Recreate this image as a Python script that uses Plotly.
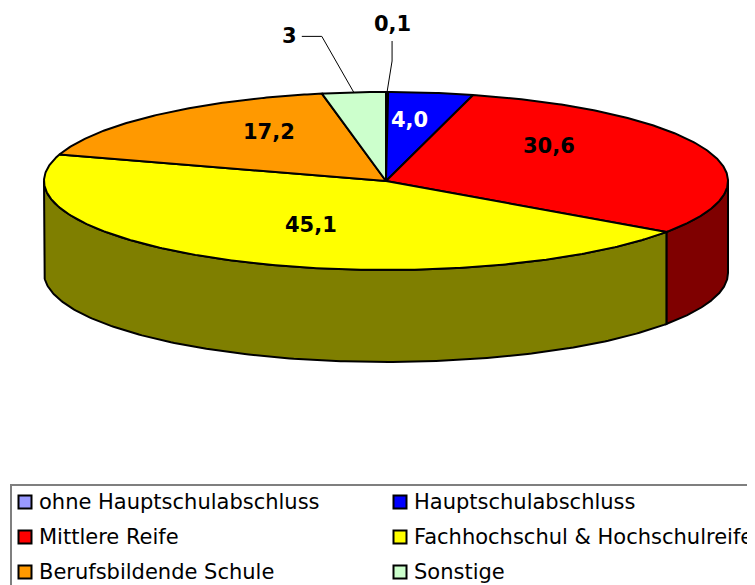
import numpy as np
import plotly.graph_objects as go

# ---- data ----
categories = ["ohne Hauptschulabschluss", "Hauptschulabschluss", "Mittlere Reife",
              "Fachhochschul & Hochschulreife", "Berufsbildende Schule", "Sonstige"]
values = [0.1, 4.0, 30.6, 45.1, 17.2, 3]
value_labels = ["0,1", "4,0", "30,6", "45,1", "17,2", "3"]

# ---- style ----
colors = ["#9999FF", "#0000FF", "#FF0000", "#FFFF00", "#FF9900", "#CCFFCC"]
label_colors = ["black", "white", "black", "black", "black", "black"]
# label placement: "in" = inside slice with nudge (dx, dy); "out" = leader line
label_mode = ["out", "in", "in", "in", "in", "out"]
label_nudge = [(0, 0), (0, -15), (-4, -19), (3, 2), (1, -14), (0, 0)]
# leader lines: elbow offset from rim point, end offset from elbow
leader_elbow = [(5, -31), None, None, None, None, (-32, -56)]
leader_end = [(0, -20), None, None, None, None, (-20, 0)]

W, H = 755, 585
PAGE_MARGIN = 8  # default body margin of the html page
CX, CY, RX, RY, DEPTH = 386, 181, 342, 89, 92
LABEL_R = 0.52
FONT = "DejaVu Sans"


def dark(hexcol):
    h = hexcol.lstrip("#")
    r, g, b = (int(h[i:i + 2], 16) // 2 for i in (0, 2, 4))
    return f"#{r:02X}{g:02X}{b:02X}"


def pt(frac, r=1.0, dz=0.0):
    t = np.pi / 2 - 2 * np.pi * np.asarray(frac)
    return CX + r * RX * np.cos(t), CY - r * RY * np.sin(t) + dz


total = sum(values)
bounds = np.concatenate([[0], np.cumsum(values) / total])

fig = go.Figure()

# side walls (front half: fractions 0.25..0.75)
for i in range(len(values)):
    a, b = max(bounds[i], 0.25), min(bounds[i + 1], 0.75)
    if b <= a:
        continue
    f = np.linspace(a, b, 200)
    xt, yt = pt(f)
    xb, yb = pt(f[::-1], dz=DEPTH)
    fig.add_trace(go.Scatter(
        x=np.concatenate([xt, xb, xt[:1]]), y=np.concatenate([yt, yb, yt[:1]]),
        mode="lines", fill="toself", fillcolor=dark(colors[i]),
        line=dict(color="black", width=2), hoverinfo="skip", showlegend=False))

# top faces
for i in range(len(values)):
    n = max(int((bounds[i + 1] - bounds[i]) * 720), 3)
    f = np.linspace(bounds[i], bounds[i + 1], n)
    xs, ys = pt(f)
    fig.add_trace(go.Scatter(
        x=np.concatenate([[CX], xs, [CX]]), y=np.concatenate([[CY], ys, [CY]]),
        mode="lines", fill="toself", fillcolor=colors[i],
        line=dict(color="black", width=2), hoverinfo="skip", showlegend=False,
        name=categories[i]))

# labels
annotations = []
for i in range(len(values)):
    mid = (bounds[i] + bounds[i + 1]) / 2
    if label_mode[i] == "in":
        x, y = pt(mid, LABEL_R)
        dx, dy = label_nudge[i]
        annotations.append(dict(x=x + dx, y=y + dy, text=f"<b>{value_labels[i]}</b>",
                                showarrow=False, xanchor="center", yanchor="middle",
                                font=dict(family=FONT, size=21, color=label_colors[i])))
    else:
        rx, ry = pt(mid)
        ex, ey = rx + leader_elbow[i][0], ry + leader_elbow[i][1]
        tx, ty = ex + leader_end[i][0], ey + leader_end[i][1]
        fig.add_trace(go.Scatter(x=[rx, ex, tx], y=[ry, ey, ty], mode="lines",
                                 line=dict(color="black", width=1),
                                 hoverinfo="skip", showlegend=False))
        if leader_end[i][0] < 0:
            ann = dict(x=tx - 3, y=ty, xanchor="right", yanchor="middle")
        else:
            ann = dict(x=tx, y=ty - 3, xanchor="center", yanchor="bottom")
        ann.update(text=f"<b>{value_labels[i]}</b>", showarrow=False,
                   font=dict(family=FONT, size=21, color=label_colors[i]))
        annotations.append(ann)

# legend (two columns)
LEG_X0, LEG_Y0 = 11, 485
COL_X = [25, 400]
ROW_Y0, ROW_DY = 502, 35
shapes = [dict(type="rect", xref="x", yref="y", x0=LEG_X0, y0=LEG_Y0, x1=W + 20, y1=H + 20,
               line=dict(color="#7F7F7F", width=2), fillcolor="white", layer="below")]
for i, cat in enumerate(categories):
    cx = COL_X[i % 2]
    cy = ROW_Y0 + ROW_DY * (i // 2)
    fig.add_trace(go.Scatter(x=[cx], y=[cy], mode="markers",
                             marker=dict(symbol="square", size=13, color=colors[i],
                                         line=dict(color="black", width=2)),
                             hoverinfo="skip", showlegend=False))
    annotations.append(dict(x=cx + 12, y=cy, text=cat, showarrow=False,
                            xanchor="left", yanchor="middle",
                            font=dict(family=FONT, size=21, color="black")))

fig.update_layout(
    width=W - PAGE_MARGIN, height=H - PAGE_MARGIN, margin=dict(l=0, r=0, t=0, b=0),
    paper_bgcolor="white", plot_bgcolor="white",
    xaxis=dict(range=[PAGE_MARGIN, W], visible=False, fixedrange=True),
    yaxis=dict(range=[H, PAGE_MARGIN], visible=False, fixedrange=True),
    annotations=annotations, shapes=shapes, showlegend=False,
)

fig.write_html("out.html")
